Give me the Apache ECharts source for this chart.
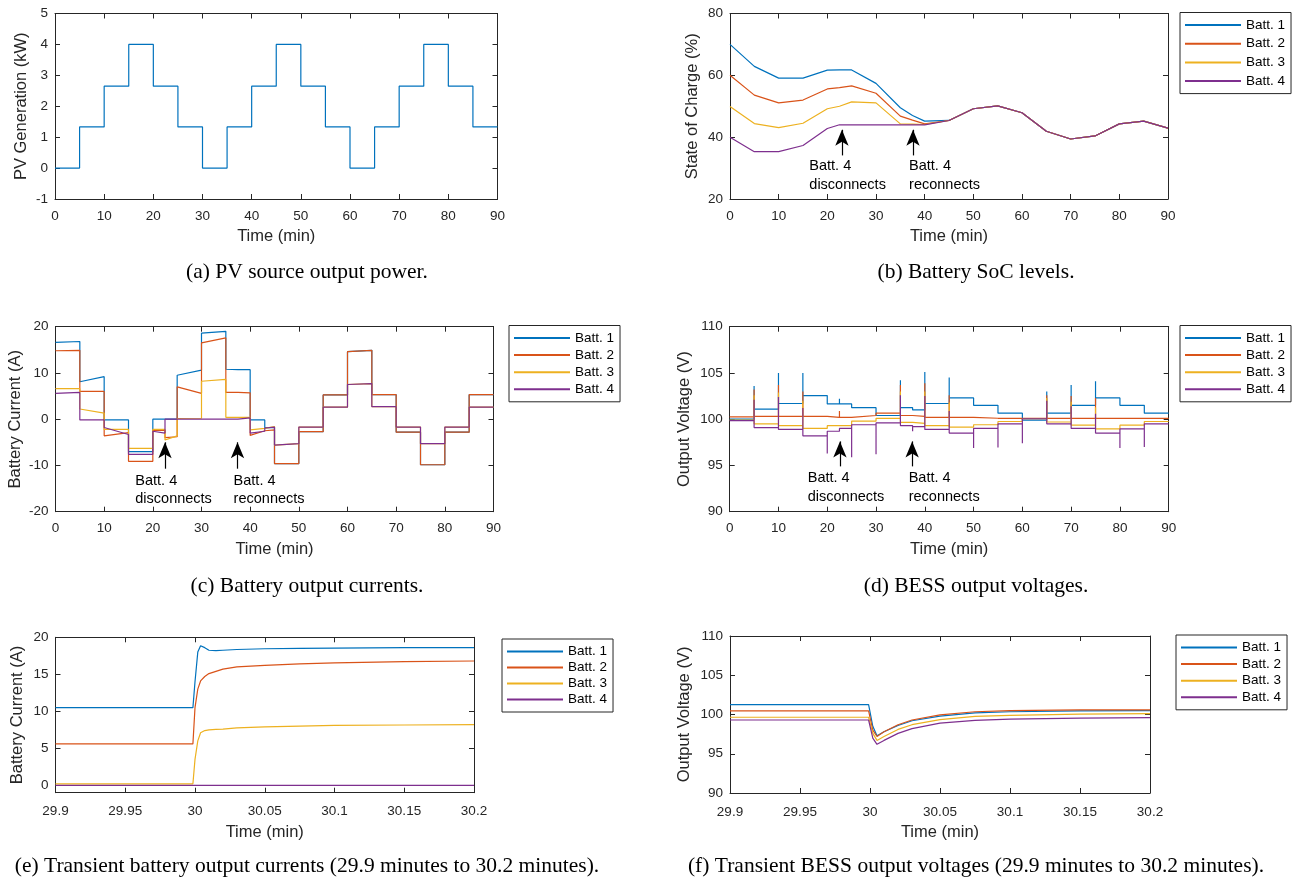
<!DOCTYPE html>
<html>
<head>
<meta charset="utf-8">
<script src="https://cdn.jsdelivr.net/npm/echarts@6/dist/echarts.min.js"></script>
<style>
  html, body { margin: 0; padding: 0; background: #fff; }
  #chart { width: 1303px; height: 877px; }
</style>
</head>
<body>
<div id="chart"></div>
<script>
// ---- data ----
const names = ['Batt. 1', 'Batt. 2', 'Batt. 3', 'Batt. 4'];
const colors = ['#0072BD', '#D95319', '#EDB120', '#7E2F8E'];

// (a) PV generation, one level per 5-minute block (kW)
const pvTimes = [0, 5, 10, 15, 20, 25, 30, 35, 40, 45, 50, 55, 60, 65, 70, 75, 80, 85, 90];
const pvLevels = [0, 1.33, 2.65, 4.0, 2.65, 1.33, 0, 1.33, 2.65, 4.0, 2.65, 1.33, 0, 1.33, 2.65, 4.0, 2.65, 1.33];

// (b) state of charge (%)
const socTimes = [0, 5, 10, 15, 20, 22.5, 25, 30, 35, 37.5, 40, 45, 50, 55, 60, 65, 70, 75, 80, 85, 90];
const soc1 = [70, 62.9, 59.1, 59.1, 61.7, 61.75, 61.75, 57.4, 49.5, 47.0, 45.2, 45.4, 49.2, 50.1, 47.9, 41.9, 39.4, 40.4, 44.3, 45.2, 42.9];
const soc2 = [60, 53.6, 51.1, 52.0, 55.6, 56.0, 56.6, 54.2, 46.8, 45.5, 44.3, 45.4, 49.2, 50.1, 47.9, 41.9, 39.4, 40.4, 44.3, 45.2, 42.9];
const soc3 = [49.9, 44.4, 43.1, 44.5, 49.2, 50.0, 51.4, 51.1, 44.3, 44.2, 44.1, 45.4, 49.2, 50.1, 47.9, 41.9, 39.4, 40.4, 44.3, 45.2, 42.9];
const soc4 = [40.0, 35.3, 35.3, 37.3, 42.8, 44.0, 44.0, 44.0, 44.0, 44.0, 44.0, 45.4, 49.2, 50.1, 47.9, 41.9, 39.4, 40.4, 44.3, 45.2, 42.9];

// (c) battery currents, [start, end] of each block (A)
const curTimes = [0, 5, 10, 15, 20, 22.5, 25, 30, 35, 37.5, 40, 43, 45, 50, 55, 60, 65, 70, 75, 80, 85, 90];
const cur1 = [[16.6, 16.8], [8.1, 9.2], [-0.15, -0.15], [-7.0, -7.0], [0, 0], [-0.1, 0], [9.5, 10.6], [18.6, 19.0], [10.8, 10.7], [10.7, 10.7], [-0.15, -0.15], [-1.8, -1.8], [-9.6, -9.6], [-2.7, -2.7], [5.25, 5.25], [14.6, 14.9], [5.3, 5.3], [-2.8, -2.8], [-9.85, -9.85], [-2.8, -2.8], [5.3, 5.3]];
const cur2 = [[14.8, 14.9], [6.0, 6.0], [-3.6, -2.9], [-9.1, -9.1], [-2.4, -2.4], [-4.0, -3.8], [7.0, 5.6], [16.5, 17.6], [5.8, 5.8], [5.8, 5.7], [-3.5, -2.5], [-2.3, -2.3], [-9.6, -9.6], [-2.7, -2.7], [5.25, 5.25], [14.6, 14.9], [5.3, 5.3], [-2.8, -2.8], [-9.85, -9.85], [-2.8, -2.8], [5.3, 5.3]];
const cur3 = [[6.6, 6.6], [2.2, 1.3], [-2.2, -2.2], [-6.3, -6.3], [-2.2, -2.2], [-4.5, -3.6], [0.15, 0.2], [8.2, 8.6], [0.4, 0.4], [0.4, 0.4], [-2.3, -2.0], [-1.8, -1.6], [-5.6, -5.3], [-1.7, -1.7], [2.6, 2.6], [7.5, 7.7], [2.7, 2.7], [-1.7, -1.7], [-5.3, -5.3], [-1.7, -1.7], [2.6, 2.6]];
const cur4 = [[5.6, 5.8], [-0.15, -0.15], [-1.8, -3.3], [-7.6, -7.6], [-2.6, -3.0], [0, 0], [0, 0], [0, 0], [0, 0], [0.2, 0.3], [-3.0, -2.6], [-1.9, -1.7], [-5.6, -5.3], [-1.7, -1.7], [2.6, 2.6], [7.5, 7.7], [2.7, 2.7], [-1.7, -1.7], [-5.3, -5.3], [-1.7, -1.7], [2.6, 2.6]];

// (d) output voltages, level per block and spike peak at each switching instant (V)
const voltTimes = [0, 5, 10, 15, 20, 22.5, 25, 30, 35, 37.5, 40, 45, 50, 55, 60, 65, 70, 75, 80, 85, 90];
const volt1 = [100.0, 101.1, 101.7, 102.55, 101.65, 101.65, 101.25, 100.4, 101.25, 101.0, 101.7, 102.3, 101.5, 100.65, 99.9, 100.65, 101.5, 102.3, 101.5, 100.65];
const volt2 = [100.25, 100.3, 100.3, 100.3, 100.2, 100.2, 100.4, 100.65, 100.4, 100.3, 100.2, 100.2, 100.1, 100.1, 100.1, 100.1, 100.1, 100.1, 100.1, 100.1];
const volt3 = [99.9, 99.5, 99.3, 99.0, 99.3, 99.3, 99.8, 100.1, 99.65, 99.55, 99.3, 99.15, 99.4, 99.75, 100.05, 99.7, 99.35, 98.95, 99.35, 99.75];
const volt4 = [99.85, 99.1, 98.9, 98.2, 98.7, 99.0, 99.4, 99.6, 99.3, 99.2, 98.9, 98.5, 99.0, 99.5, 100.05, 99.5, 99.0, 98.5, 98.95, 99.5];
const spike1 = [103.6, 105.0, 105.0, null, 102.2, null, null, 104.2, null, 105.1, 104.5, null, null, null, 103.0, 103.7, 104.1, null, null];
const spike2 = [103.2, 103.7, 103.0, null, 100.9, null, null, 103.7, null, 103.9, 102.6, null, null, null, 102.6, 102.5, 102.3, null, null];
const spike3 = [102.6, 102.9, 102.0, null, null, null, null, 103.0, null, 103.0, 101.8, null, null, null, 102.3, 101.9, 101.3, null, null];
const spike4 = [102.1, 102.4, 101.2, 96.3, null, 95.9, 96.2, 102.6, 98.7, 102.5, 100.9, 96.9, 96.95, 97.4, 102.0, 101.4, 100.6, 96.9, 97.0];

// (e) transient currents (A)
const trCurTimes = [29.9, 29.9985, 30.0, 30.002, 30.004, 30.007, 30.01, 30.015, 30.02, 30.03, 30.05, 30.075, 30.1, 30.15, 30.2];
const trCur1 = [10.5, 10.5, 14.0, 18.0, 18.85, 18.6, 18.25, 18.2, 18.25, 18.35, 18.45, 18.5, 18.55, 18.6, 18.6];
const trCur2 = [5.6, 5.6, 10.5, 13.0, 14.1, 14.7, 15.1, 15.4, 15.7, 16.0, 16.2, 16.4, 16.55, 16.7, 16.8];
const trCur3 = [0.2, 0.2, 3.5, 6.0, 7.1, 7.4, 7.5, 7.55, 7.6, 7.75, 7.9, 8.0, 8.1, 8.15, 8.2];
const trCur4 = [0, 0, 0, 0, 0, 0, 0, 0, 0, 0, 0, 0, 0, 0, 0];

// (f) transient voltages (V)
const trVoltTimes = [29.9, 29.999, 30.002, 30.005, 30.01, 30.02, 30.03, 30.05, 30.075, 30.1, 30.15, 30.2];
const trVolt1 = [101.25, 101.25, 98.5, 97.3, 97.8, 98.6, 99.2, 99.8, 100.2, 100.35, 100.45, 100.5];
const trVolt2 = [100.45, 100.45, 98.0, 97.2, 97.8, 98.7, 99.3, 99.95, 100.35, 100.5, 100.6, 100.6];
const trVolt3 = [99.65, 99.65, 97.6, 96.7, 97.2, 98.1, 98.7, 99.35, 99.75, 99.9, 100.05, 100.1];
const trVolt4 = [99.3, 99.3, 97.0, 96.2, 96.7, 97.6, 98.2, 98.9, 99.25, 99.4, 99.55, 99.6];

// tick labels
const minTicks = [0, 10, 20, 30, 40, 50, 60, 70, 80, 90];
const trTicks = [29.9, 29.95, 30, 30.05, 30.1, 30.15, 30.2];
const pvTicks = [-1, 0, 1, 2, 3, 4, 5];
const socTicks = [20, 40, 60, 80];
const curTicks = [-20, -10, 0, 10, 20];
const voltTicks = [90, 95, 100, 105, 110];
const trCurTicks = [0, 5, 10, 15, 20];

// annotations: arrow x, arrow tail y, arrow head y, text x, text top y
const annoB = [[23.0, 34.1, 42.4, 16.4, 33.4, 'Batt. 4\ndisconnects'], [37.6, 34.1, 42.4, 36.9, 33.4, 'Batt. 4\nreconnects']];
const annoC = [[22.5, -10.7, -5.0, 16.5, -11.4, 'Batt. 4\ndisconnects'], [37.4, -10.7, -5.0, 36.7, -11.4, 'Batt. 4\nreconnects']];
const annoD = [[22.6, 94.9, 97.6, 16.1, 94.55, 'Batt. 4\ndisconnects'], [37.4, 94.9, 97.6, 36.8, 94.55, 'Batt. 4\nreconnects']];

const captions = [
  ['(a) PV source output power.', 307, 272],
  ['(b) Battery SoC levels.', 976, 272],
  ['(c) Battery output currents.', 307, 586],
  ['(d) BESS output voltages.', 976, 586],
  ['(e) Transient battery output currents (29.9 minutes to 30.2 minutes).', 307, 866],
  ['(f) Transient BESS output voltages (29.9 minutes to 30.2 minutes).', 976, 866]
];

// ---- helpers ----
const AX = '#262626';
const SANS = '"Liberation Sans", Arial, Helvetica, sans-serif';

function steps(times, levels) {
  const pts = [];
  levels.forEach((v, i) => { pts.push([times[i], v], [times[i + 1], v]); });
  return pts;
}
function ramps(times, pairs) {
  const pts = [];
  pairs.forEach((p, i) => { pts.push([times[i], p[0]], [times[i + 1], p[1]]); });
  return pts;
}
function spiky(times, levels, spikes) {
  const pts = [];
  levels.forEach((v, i) => {
    pts.push([times[i], v], [times[i + 1], v]);
    if (i < spikes.length && spikes[i] != null) pts.push([times[i + 1], spikes[i]]);
  });
  return pts;
}
function zip(times, vals) { return times.map((t, i) => [t, vals[i]]); }

function xAxes(g, min, max, ticks, name, fmt, margin, gap) {
  const base = {
    gridIndex: g, type: 'value', min: min, max: max,
    axisLine: { show: true, onZero: false, lineStyle: { color: AX, width: 1 } },
    axisTick: { show: true, inside: true, length: 5, customValues: ticks, lineStyle: { color: AX } },
    splitLine: { show: false }
  };
  return [
    Object.assign({}, base, {
      position: 'bottom', name: name, nameLocation: 'middle', nameGap: gap,
      nameTextStyle: { color: AX, fontSize: 16.5, fontFamily: SANS },
      axisLabel: { show: true, customValues: ticks, color: AX, fontSize: 13.5, margin: margin, fontFamily: SANS, formatter: fmt }
    }),
    Object.assign({}, base, { position: 'top', axisLabel: { show: false } })
  ];
}
function yAxes(g, min, max, ticks, name, gap) {
  const base = {
    gridIndex: g, type: 'value', min: min, max: max,
    axisLine: { show: true, onZero: false, lineStyle: { color: AX, width: 1 } },
    axisTick: { show: true, inside: true, length: 5, customValues: ticks, lineStyle: { color: AX } },
    splitLine: { show: false }
  };
  return [
    Object.assign({}, base, {
      position: 'left', name: name, nameLocation: 'middle', nameGap: gap,
      nameTextStyle: { color: AX, fontSize: 16.5, fontFamily: SANS },
      axisLabel: { show: true, customValues: ticks, color: AX, fontSize: 13.5, margin: 7, fontFamily: SANS }
    }),
    Object.assign({}, base, { position: 'right', axisLabel: { show: false } })
  ];
}
function line(g, name, color, data) {
  return {
    type: 'line', name: name, xAxisIndex: 2 * g, yAxisIndex: 2 * g, data: data,
    showSymbol: false, symbol: 'none', lineStyle: { color: color, width: 1.2 },
    itemStyle: { color: color }, animation: false, z: 2
  };
}
function annotate(s, list) {
  s.markLine = {
    silent: true, symbol: ['none', 'arrow'], symbolSize: [10, 16], animation: false,
    lineStyle: { color: '#000', width: 1.2, type: 'solid' }, label: { show: false },
    data: list.map(a => [{ coord: [a[0], a[1]] }, { coord: [a[0], a[2]] }])
  };
  s.markPoint = {
    silent: true, symbol: 'circle', symbolSize: 1, animation: false,
    itemStyle: { color: 'rgba(0,0,0,0)' },
    label: { show: true, position: [0, 0], align: 'left', verticalAlign: 'top', color: '#000', fontSize: 14.5, lineHeight: 18.3, fontFamily: SANS },
    data: list.map(a => ({ coord: [a[3], a[4]], label: { formatter: a[5] } }))
  };
}
function legend(left, top, gap) {
  return {
    show: true, orient: 'vertical', left: left, top: top, data: names,
    icon: 'rect', itemWidth: 56, itemHeight: 2, itemGap: gap, padding: [5, 6, 5, 5],
    borderColor: AX, borderWidth: 1, backgroundColor: '#fff', borderRadius: 0,
    selectedMode: false, textStyle: { fontSize: 13.5, lineHeight: 15, color: '#000', fontFamily: SANS }
  };
}

// ---- layout ----
const grids = [
  { left: 55, top: 13.5, width: 442.5, height: 185.5 },
  { left: 730, top: 13.5, width: 438, height: 185.5 },
  { left: 55.5, top: 326.7, width: 438, height: 185 },
  { left: 729.7, top: 326.7, width: 439, height: 185 },
  { left: 55.5, top: 637.3, width: 418.5, height: 155.4 },
  { left: 730, top: 636, width: 420, height: 157 }
];

const minFmt = v => String(v);
const trFmt = v => String(+(+v).toFixed(2));

const xAxis = [].concat(
  xAxes(0, 0, 90, minTicks, 'Time (min)', minFmt, 10, 29),
  xAxes(1, 0, 90, minTicks, 'Time (min)', minFmt, 10, 29),
  xAxes(2, 0, 90, minTicks, 'Time (min)', minFmt, 10, 29),
  xAxes(3, 0, 90, minTicks, 'Time (min)', minFmt, 10, 29),
  xAxes(4, 29.9, 30.2, trTicks, 'Time (min)', trFmt, 12, 31),
  xAxes(5, 29.9, 30.2, trTicks, 'Time (min)', trFmt, 12, 31)
);
const yAxis = [].concat(
  yAxes(0, -1, 5, pvTicks, 'PV Generation (kW)', 25),
  yAxes(1, 20, 80, socTicks, 'State of Charge (%)', 29),
  yAxes(2, -20, 20, curTicks, 'Battery Current (A)', 32),
  yAxes(3, 90, 110, voltTicks, 'Output Voltage (V)', 36.5),
  yAxes(4, -1, 20, trCurTicks, 'Battery Current (A)', 30),
  yAxes(5, 90, 110, voltTicks, 'Output Voltage (V)', 37)
);

const series = [line(0, 'PV', colors[0], steps(pvTimes, pvLevels))];
const socs = [soc1, soc2, soc3, soc4];
const curs = [cur1, cur2, cur3, cur4];
const volts = [volt1, volt2, volt3, volt4];
const spikes = [spike1, spike2, spike3, spike4];
const trCurs = [trCur1, trCur2, trCur3, trCur4];
const trVolts = [trVolt1, trVolt2, trVolt3, trVolt4];

const sB = names.map((n, i) => line(1, n, colors[i], zip(socTimes, socs[i])));
const sC = names.map((n, i) => line(2, n, colors[i], ramps(curTimes, curs[i])));
const sD = names.map((n, i) => line(3, n, colors[i], spiky(voltTimes, volts[i], spikes[i])));
const sE = names.map((n, i) => line(4, n, colors[i], zip(trCurTimes, trCurs[i])));
const sF = names.map((n, i) => line(5, n, colors[i], zip(trVoltTimes, trVolts[i])));
annotate(sB[3], annoB);
annotate(sC[3], annoC);
annotate(sD[3], annoD);
series.push(...sB, ...sC, ...sD, ...sE, ...sF);

const chart = echarts.init(document.getElementById('chart'), null, { renderer: 'canvas' });
chart.setOption({
  backgroundColor: '#fff',
  animation: false,
  grid: grids,
  xAxis: xAxis,
  yAxis: yAxis,
  legend: [
    legend(1180, 12.5, 3.7),
    legend(509, 325.5, 2.1),
    legend(1180, 325.5, 2.1),
    legend(502, 639, 1.0),
    legend(1176, 635, 1.6)
  ],
  graphic: captions.map(c => ({
    type: 'text', x: c[1], y: c[2],
    style: { text: c[0], fill: '#000', font: '21.5px "Liberation Serif", "Times New Roman", serif', align: 'center', verticalAlign: 'middle' }
  })),
  series: series
});
</script>
</body>
</html>
